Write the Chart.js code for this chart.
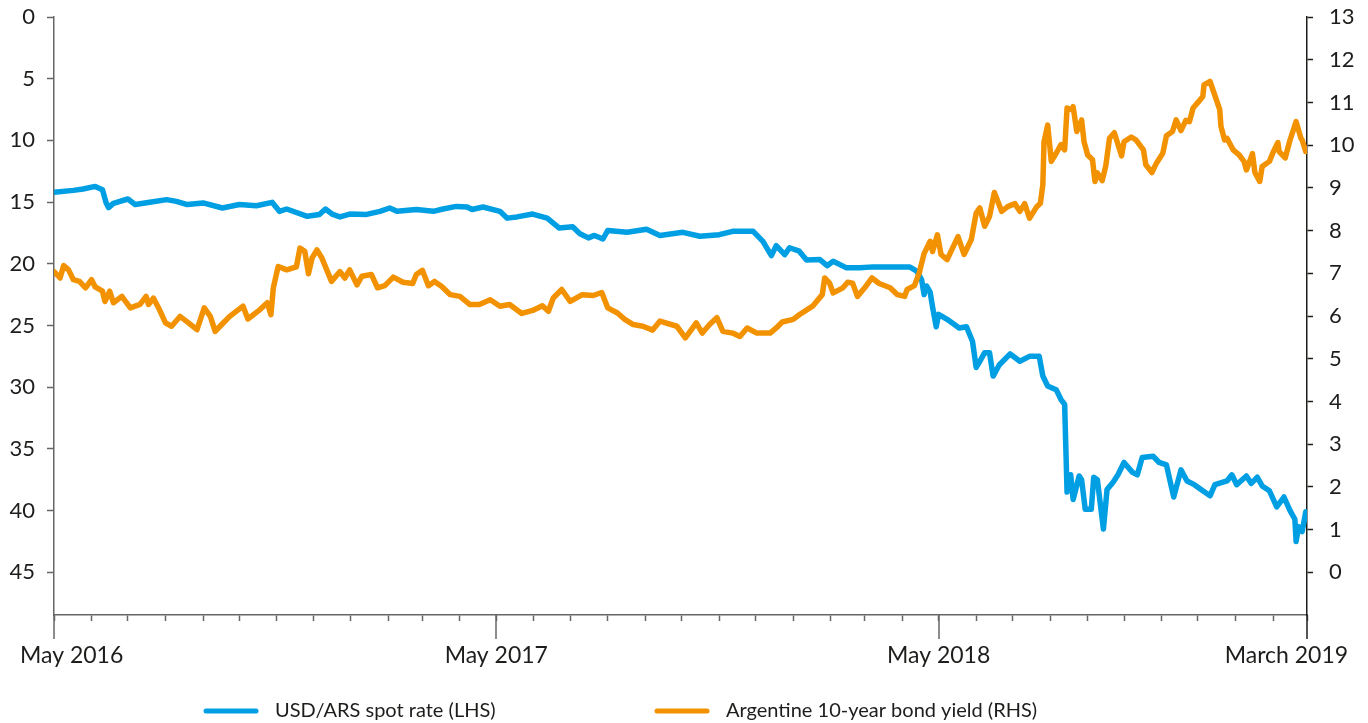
<!DOCTYPE html>
<html>
<head>
<meta charset="utf-8">
<script src="https://cdn.jsdelivr.net/npm/chart.js@4.4.1/dist/chart.umd.min.js"></script>
<style>
html,body{margin:0;padding:0;background:#ffffff;}
#wrap{width:1368px;height:723px;position:relative;}
</style>
</head>
<body>
<div id="wrap"><canvas id="c" width="1368" height="723"></canvas></div>
<script>
// ---- DATA (x = days since 2016-05-01) ----
const startDate = '2016-05-01';
const endDate = '2019-03-01';

const usdLabel = 'USD/ARS spot rate (LHS)';
const usdDays = [0,16,24,34,40,43,45,49,61,67,79,93,101,110,123,139,153,167,180,186,192,209,219,224,230,236,244,258,269,277,283,299,313,321,332,341,345,354,368,374,382,395,407,417,428,434,441,446,453,457,473,489,500,519,533,549,560,577,585,592,596,603,607,615,621,632,638,643,654,665,676,706,712,716,718,720,723,725,728,730,737,747,753,758,761,764,768,772,775,780,789,797,805,813,816,820,827,831,834,836,839,841,846,848,851,856,858,861,866,869,874,878,883,890,894,898,907,912,918,924,930,935,941,948,954,958,968,972,976,984,988,993,997,1003,1009,1015,1020,1024,1025,1027,1030,1033];
const usdRate = [14.2,14.05,13.94,13.73,14.0,15.05,15.45,15.1,14.75,15.2,15.02,14.8,14.94,15.2,15.07,15.48,15.2,15.3,15.02,15.75,15.56,16.15,16.0,15.56,16.0,16.2,15.97,16.0,15.75,15.48,15.75,15.6,15.75,15.56,15.35,15.4,15.6,15.4,15.75,16.3,16.2,15.97,16.3,17.1,17.0,17.56,17.9,17.7,17.99,17.3,17.45,17.2,17.7,17.45,17.77,17.64,17.37,17.37,18.18,19.34,18.53,19.26,18.7,18.98,19.7,19.66,20.15,19.8,20.33,20.33,20.25,20.25,20.6,21.3,22.5,21.8,22.3,23.5,25.1,24.1,24.5,25.2,25.1,26.3,28.4,27.9,27.2,27.2,29.1,28.2,27.3,27.9,27.5,27.5,29.1,29.9,30.2,31.0,31.4,38.5,37.1,39.1,37.2,37.5,39.9,39.9,37.3,37.5,41.5,38.3,37.7,37.1,36.1,36.9,37.1,35.7,35.6,36.1,36.3,38.9,36.7,37.6,37.9,38.4,38.8,37.9,37.6,37.1,37.9,37.2,37.8,37.3,38.0,38.4,39.7,38.9,40.0,40.7,42.5,41.3,41.7,40.1];

const yieldLabel = 'Argentine 10-year bond yield (RHS)';
const yieldDays = [0,5,8,12,16,21,26,31,34,40,42,46,49,56,63,71,76,78,82,87,92,97,104,111,118,124,129,133,137,145,156,160,170,176,179,181,185,192,200,203,207,210,213,217,221,229,236,240,244,250,254,262,267,273,280,288,296,299,304,309,314,320,327,335,343,351,360,368,376,386,395,403,408,412,419,426,436,445,452,457,465,471,478,486,494,500,514,521,526,530,535,541,547,552,560,566,572,580,591,596,601,610,615,626,634,636,640,643,651,655,659,663,669,675,681,690,696,702,704,710,714,718,723,725,729,732,737,746,751,757,761,764,768,772,776,782,787,793,797,801,805,811,814,816,817,820,823,827,831,834,836,840,841,844,848,850,853,857,859,861,865,868,871,875,881,883,889,893,899,901,906,910,915,918,923,926,930,934,937,940,944,948,949,954,962,963,966,968,973,978,982,984,989,991,995,997,1003,1006,1010,1011,1016,1020,1025,1029,1030,1033];
const bondYield = [7.04,6.89,7.18,7.08,6.85,6.81,6.66,6.85,6.68,6.58,6.34,6.58,6.31,6.46,6.19,6.27,6.46,6.27,6.42,6.15,5.84,5.76,5.99,5.84,5.68,6.19,5.99,5.64,5.76,5.99,6.23,5.93,6.15,6.31,6.03,6.66,7.16,7.08,7.15,7.59,7.51,6.99,7.36,7.55,7.36,6.81,7.04,6.89,7.08,6.73,6.93,6.97,6.66,6.71,6.91,6.79,6.76,6.97,7.07,6.71,6.81,6.69,6.5,6.46,6.27,6.27,6.38,6.23,6.27,6.06,6.13,6.24,6.11,6.42,6.62,6.34,6.5,6.48,6.55,6.19,6.07,5.92,5.8,5.76,5.67,5.88,5.76,5.49,5.68,5.84,5.60,5.8,5.96,5.64,5.60,5.52,5.72,5.60,5.60,5.72,5.86,5.92,6.03,6.23,6.5,6.89,6.77,6.54,6.66,6.79,6.77,6.46,6.66,6.89,6.76,6.66,6.5,6.46,6.62,6.71,7.01,7.46,7.75,7.51,7.9,7.44,7.32,7.86,7.44,7.79,8.41,8.53,8.10,8.33,8.89,8.45,8.56,8.63,8.45,8.63,8.29,8.56,8.64,9.07,10.08,10.47,9.62,9.81,10.01,9.89,10.87,10.83,10.90,10.32,10.59,10.08,9.77,9.66,9.15,9.35,9.17,9.52,10.16,10.29,9.75,10.08,10.19,10.12,9.89,9.54,9.36,9.59,9.81,10.22,10.32,10.59,10.34,10.58,10.55,10.87,11.0,11.14,11.41,11.49,10.83,10.44,10.12,10.16,9.89,9.77,9.62,9.42,9.8,9.36,9.15,9.5,9.62,9.83,10.06,9.85,9.70,10.12,10.55,10.16,10.12,9.85];

const xLabelDates = ['2016-05-01','2017-05-01','2018-05-01','2019-03-01'];
const xLabelText = ['May 2016','May 2017','May 2018','March 2019'];
const leftTicks = [0,5,10,15,20,25,30,35,40,45];
const rightTicks = [0,1,2,3,4,5,6,7,8,9,10,11,12,13];

// ---- helpers ----
const DAY = 86400000;
const t0 = Date.parse(startDate + 'T00:00:00Z');
const dayOf = s => Math.round((Date.parse(s + 'T00:00:00Z') - t0) / DAY);
const xMax = dayOf(endDate);
const monthTicks = [];
(function(){
  let d = new Date(t0);
  while (true) {
    const v = Math.round((d.getTime() - t0) / DAY);
    if (v > xMax) break;
    monthTicks.push(v);
    d = new Date(Date.UTC(d.getUTCFullYear(), d.getUTCMonth() + 1, 1));
  }
})();
const labelDays = xLabelDates.map(dayOf);
function xLabelFor(v) {
  const i = labelDays.indexOf(v);
  if (i < 0) return '';
  if (i === 0) return '      ' + xLabelText[i];
  if (i === labelDays.length - 1) return xLabelText[i] + '       ';
  return xLabelText[i];
}

// right axis range chosen so that right 0 aligns with left 45 and right 13 with left 0
const rightMin = -1, rightMax = 13;
const leftMax = 45 * (rightMax - rightMin) / 13;

const BLUE = '#009fe3';
const ORANGE = '#f39200';
const TXT = '#1d1d1b';

const majorTicksPlugin = {
  id: 'majorTicks',
  afterDraw(chart) {
    const ctx = chart.ctx, xs = chart.scales.x, ca = chart.chartArea;
    ctx.save();
    labelDays.forEach((d, i) => {
      const px = Math.round(xs.getPixelForValue(d));
      ctx.beginPath();
      ctx.strokeStyle = (i === labelDays.length - 1) ? '#1d1d1b' : '#666666';
      ctx.lineWidth = 1.5;
      ctx.moveTo(px, ca.bottom);
      ctx.lineTo(px, ca.bottom + 24);
      ctx.stroke();
    });
    ctx.restore();
  }
};

const legendPlugin = {
  id: 'customLegend',
  afterDraw(chart) {
    const ctx = chart.ctx;
    const y = 711;
    const items = [
      {x: 204, color: BLUE, text: usdLabel},
      {x: 655, color: ORANGE, text: yieldLabel}
    ];
    ctx.save();
    ctx.font = '20px Lato';
    ctx.textBaseline = 'middle';
    ctx.textAlign = 'left';
    items.forEach(it => {
      ctx.beginPath();
      ctx.strokeStyle = it.color;
      ctx.lineWidth = 5;
      ctx.lineCap = 'round';
      ctx.moveTo(it.x + 2, y);
      ctx.lineTo(it.x + 52, y);
      ctx.stroke();
      ctx.fillStyle = TXT;
      ctx.fillText(it.text, it.x + 71, y);
    });
    ctx.restore();
  }
};

const tickFont = {family: 'Lato', size: 22};

new Chart(document.getElementById('c'), {
  type: 'line',
  data: {
    datasets: [
      {
        label: usdLabel,
        data: usdDays.map((d, i) => ({x: d, y: usdRate[i]})),
        borderColor: BLUE,
        backgroundColor: BLUE,
        borderWidth: 5.5,
        pointRadius: 0,
        tension: 0,
        borderJoinStyle: 'round',
        borderCapStyle: 'round',
        yAxisID: 'y',
        order: 2
      },
      {
        label: yieldLabel,
        data: yieldDays.map((d, i) => ({x: d, y: bondYield[i]})),
        borderColor: ORANGE,
        backgroundColor: ORANGE,
        borderWidth: 5.5,
        pointRadius: 0,
        tension: 0,
        borderJoinStyle: 'round',
        borderCapStyle: 'round',
        yAxisID: 'y1',
        order: 1
      }
    ]
  },
  options: {
    responsive: false,
    devicePixelRatio: 1,
    animation: false,
    layout: {padding: {top: 17, bottom: 0, left: 0, right: 0}},
    plugins: {legend: {display: false}, tooltip: {enabled: false}},
    scales: {
      x: {
        type: 'linear',
        min: 0,
        max: xMax,
        afterBuildTicks: s => { s.ticks = monthTicks.map(v => ({value: v})); },
        ticks: {
          autoSkip: false, maxRotation: 0, minRotation: 0,
          padding: 21,
          font: {family: 'Lato', size: 23},
          color: TXT,
          callback: v => xLabelFor(v)
        },
        grid: {drawOnChartArea: false, drawTicks: true, tickLength: 6, tickColor: '#666666', tickWidth: 1.5},
        border: {display: true, color: '#666666', width: 1.5},
        afterFit: s => { s.height = 108; s.paddingLeft = 0; s.paddingRight = 0; }
      },
      y: {
        position: 'left',
        reverse: true,
        min: 0,
        max: leftMax,
        afterBuildTicks: s => { s.ticks = leftTicks.map(v => ({value: v})); },
        ticks: {font: tickFont, color: TXT, padding: 12},
        grid: {drawOnChartArea: false, drawTicks: true, tickLength: 7, tickColor: '#666666', tickWidth: 1.5},
        border: {display: true, color: '#666666', width: 1.5},
        afterFit: s => { s.width = 54; s.paddingTop = 0; s.paddingBottom = 0; }
      },
      y1: {
        position: 'right',
        min: rightMin,
        max: rightMax,
        afterBuildTicks: s => { s.ticks = rightTicks.map(v => ({value: v})); },
        ticks: {font: tickFont, color: TXT, padding: 16},
        grid: {drawOnChartArea: false, drawTicks: true, tickLength: 6, tickColor: '#1d1d1b', tickWidth: 1.5},
        border: {display: true, color: '#1d1d1b', width: 1.5},
        afterFit: s => { s.width = 61; s.paddingTop = 0; s.paddingBottom = 0; }
      }
    }
  },
  plugins: [majorTicksPlugin, legendPlugin]
});
</script>
</body>
</html>
